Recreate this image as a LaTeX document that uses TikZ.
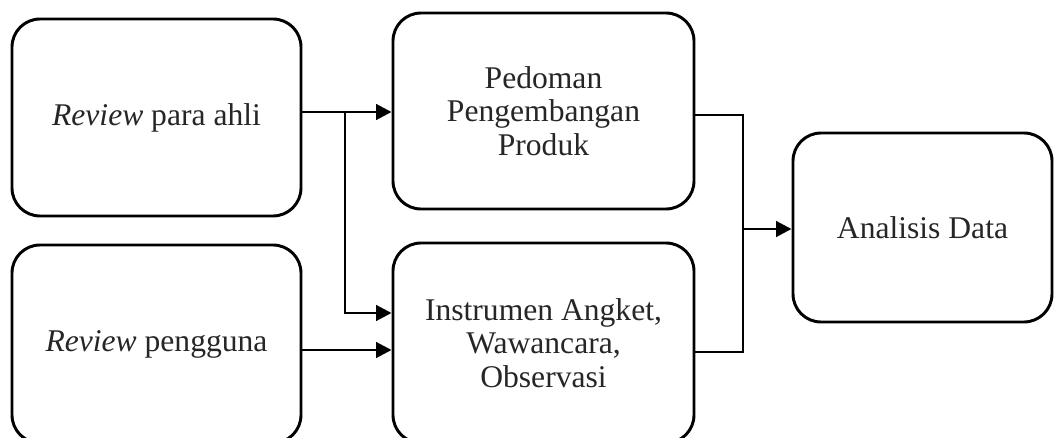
\documentclass[tikz,border=0pt]{standalone}
\usepackage{fontspec}
\setmainfont{Liberation Serif}
\usetikzlibrary{arrows.meta}
\begin{document}
\begin{tikzpicture}[x=0.75pt,y=-0.75pt,
  box/.style={draw, line width=2.2pt, rounded corners=21pt, align=center,
    inner sep=0pt, text=black!85,
    font=\fontsize{23.7}{25.2}\selectfont},
  link/.style={line width=2.2pt},
  arr/.style={link, -{Triangle[length=11.5pt,width=11.5pt]}}]
  \useasboundingbox (0,0) rectangle (1054,438);
  \clip (0,0) rectangle (1054,438);

  % boxes
  \node[box, minimum width=216.75pt, minimum height=147.75pt] (A) at (156.5,117.5)
    {\textit{Review} para ahli};
  \node[box, minimum width=216.75pt, minimum height=148.5pt] (B) at (156.5,344)
    {\textit{Review} pengguna};
  \node[box, minimum width=225.75pt, minimum height=147pt] (C) at (543.5,111)
    {Pedoman\\Pengembangan\\Produk};
  \node[box, minimum width=225.75pt, minimum height=150pt] (D) at (543.5,343)
    {Instrumen Angket,\\Wawancara,\\Observasi};
  \node[box, minimum width=194.25pt, minimum height=141.75pt] (E) at (922.5,227.5)
    {Analisis Data};

  % junction points
  \coordinate (j1) at (345,112);
  \coordinate (j2) at (345,313);
  \coordinate (j3) at (345,350);
  \coordinate (k1) at (743,115);
  \coordinate (k2) at (743,352);
  \coordinate (k3) at (743,229);

  % inputs
  \draw[arr] (j1 -| A.east) -- (j1 -| C.west);
  \draw[arr] (j1) -- (j2) -- (j2 -| D.west);
  \draw[arr] (j3 -| B.east) -- (j3 -| D.west);

  % outputs
  \draw[link] (k1 -| C.east) -- (k1) -- (k2) -- (k2 -| D.east);
  \draw[arr] (k3) -- (k3 -| E.west);
\end{tikzpicture}
\end{document}
